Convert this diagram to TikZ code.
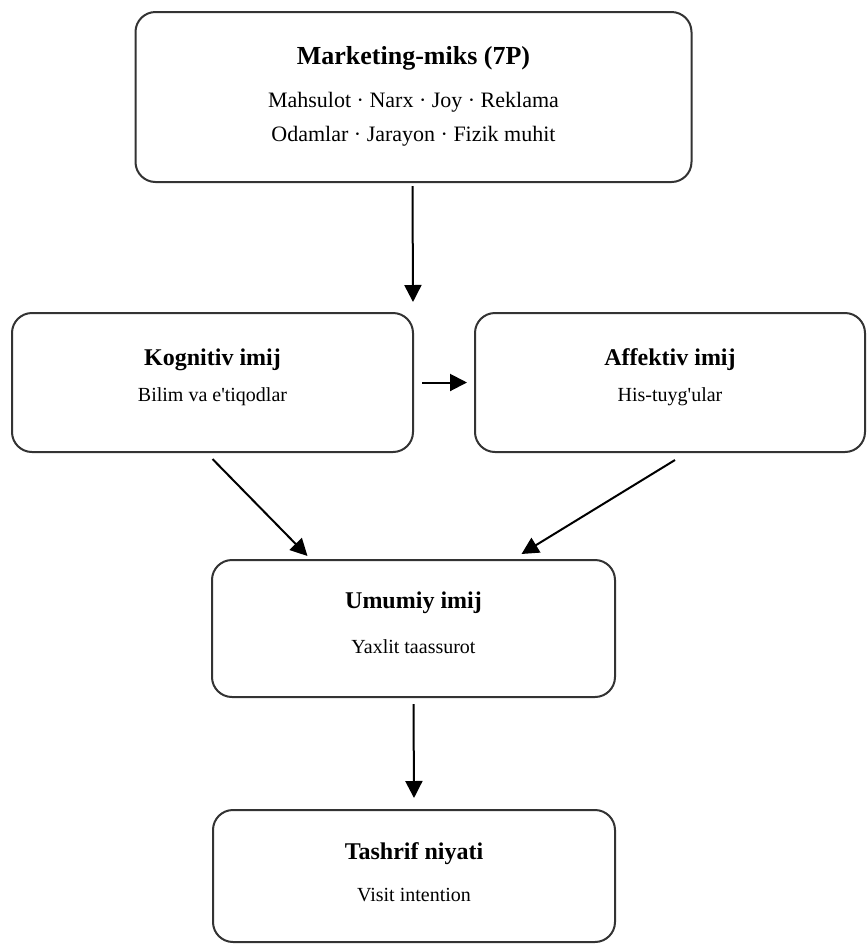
\documentclass[tikz,border=0pt]{standalone}
\usepackage{fontspec}
\setmainfont{Liberation Serif}
\usetikzlibrary{arrows.meta}

\tikzset{
  box/.style={draw=black!80, line width=1pt, rounded corners=10pt, inner sep=0pt},
  title/.style={font=\fontsize{12}{14}\selectfont\bfseries, inner sep=0pt},
  sub/.style={font=\fontsize{10}{12}\selectfont, inner sep=0pt},
  arr/.style={draw=black, line width=1pt, -{Triangle[length=8.5pt,width=8.5pt]}},
}

\begin{document}
\begin{tikzpicture}[x=0.5pt, y=-0.5pt]
    \useasboundingbox (0,0) rectangle (867,944);

    % boxes
    \node[box, minimum width=278pt, minimum height=85pt] (mix) at (413.5,97) {};
    \node[box, minimum width=200.5pt, minimum height=69.5pt] (kog) at (212.5,382.5) {};
    \node[box, minimum width=195pt, minimum height=69.5pt] (aff) at (670,382.5) {};
    \node[box, minimum width=201.5pt, minimum height=68.5pt] (umi) at (413.5,628.5) {};
    \node[box, minimum width=201pt, minimum height=66pt] (tash) at (414,876) {};

    % texts
    \node[title, font=\fontsize{13}{15}\selectfont\bfseries] (mixT) at (413.5,58) {Marketing-miks (7P)};
    \node[sub, font=\fontsize{11}{13}\selectfont] (mixA) at (413.5,102) {Mahsulot · Narx · Joy · Reklama};
    \node[sub, font=\fontsize{11}{13}\selectfont] (mixB) at (413.5,136) {Odamlar · Jarayon · Fizik muhit};
    \node[title] (kogT) at (212.5,360) {Kognitiv imij};
    \node[sub] (kogS) at (212.5,397) {Bilim va e\textquotesingle tiqodlar};
    \node[title] (affT) at (670,360) {Affektiv imij};
    \node[sub] (affS) at (670,397) {His-tuyg\textquotesingle ular};
    \node[title] (umiT) at (413.5,603) {Umumiy imij};
    \node[sub] (umiS) at (413.5,647) {Yaxlit taassurot};
    \node[title] (tashT) at (414,854) {Tashrif niyati};
    \node[sub] (tashS) at (414,895) {Visit intention};

    % connectors
    \coordinate (split) at (413,302);
    \draw[arr] ([xshift=-0.5pt,yshift=-1.5pt]mix.south) -- (split);
    \draw[arr] ([xshift=4pt]kog.east) -- ([xshift=-3.5pt]aff.west);
    \draw[arr] ([yshift=-3pt]kog.south) -- ([xshift=-53pt,yshift=1.5pt]umi.north);
    \draw[arr] ([xshift=2.5pt,yshift=-3.5pt]aff.south) -- ([xshift=54pt,yshift=2.5pt]umi.north);
    \draw[arr] ([yshift=-3pt]umi.south) -- ([yshift=5.5pt]tash.north);
\end{tikzpicture}
\end{document}
